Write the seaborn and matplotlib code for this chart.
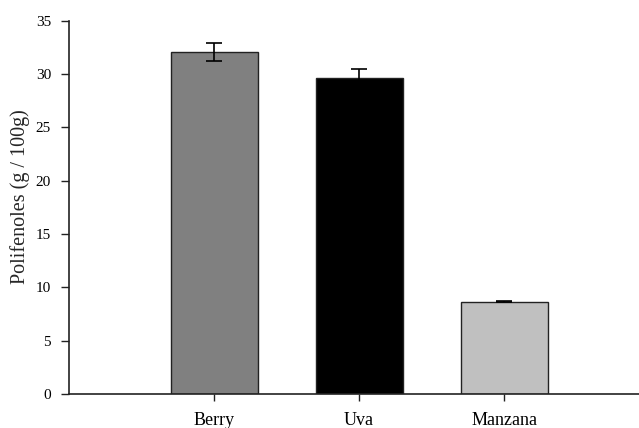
import matplotlib
matplotlib.use("Agg")
import matplotlib.pyplot as plt
import seaborn as sns
import pandas as pd

# Polyphenol content by fruit
categories = ["Berry", "Uva", "Manzana"]
values = [32.1, 29.6, 8.65]
errors = [0.86, 0.87, 0.05]
colors = ["#808080", "#000000", "#c0c0c0"]

sns.set_theme(style="ticks")
plt.rcParams["font.family"] = ["Liberation Serif", "DejaVu Serif"]

df = pd.DataFrame({"fruta": categories, "polifenoles": values})

fig = plt.figure(figsize=(6.39, 4.28), dpi=100)
ax = fig.add_axes([0.108, 0.0794, 0.892, 0.872])

sns.barplot(data=df, x="fruta", y="polifenoles", hue="fruta", palette=colors,
            width=0.6, edgecolor="#222222", linewidth=1.0, legend=False,
            errorbar=None, ax=ax, zorder=2)
ax.errorbar(range(len(categories)), values, yerr=errors, fmt="none",
            ecolor="#000000", elinewidth=1.2, capsize=5.5, capthick=1.2, zorder=3)

ax.set_xlim(-1.0, 2.93)
ax.set_ylim(0, 35)
ax.set_yticks(range(0, 36, 5))
ax.set_xlabel("")
ax.set_ylabel("Polifenoles (g / 100g)", fontsize=14.5)
ax.yaxis.set_label_coords(-0.068, 0.528)
ax.tick_params(axis="y", direction="out", length=6, width=1, pad=7, labelsize=11, colors="#222222")
ax.tick_params(axis="x", direction="out", length=5, width=1, pad=8, labelsize=13, colors="#222222")
for lbl in ax.get_xticklabels() + ax.get_yticklabels():
    lbl.set_color("black")

for side in ["top", "right"]:
    ax.spines[side].set_visible(False)
for side in ["left", "bottom"]:
    ax.spines[side].set_color("#222222")
    ax.spines[side].set_linewidth(1.2)

fig.savefig("out.png", dpi=100)
